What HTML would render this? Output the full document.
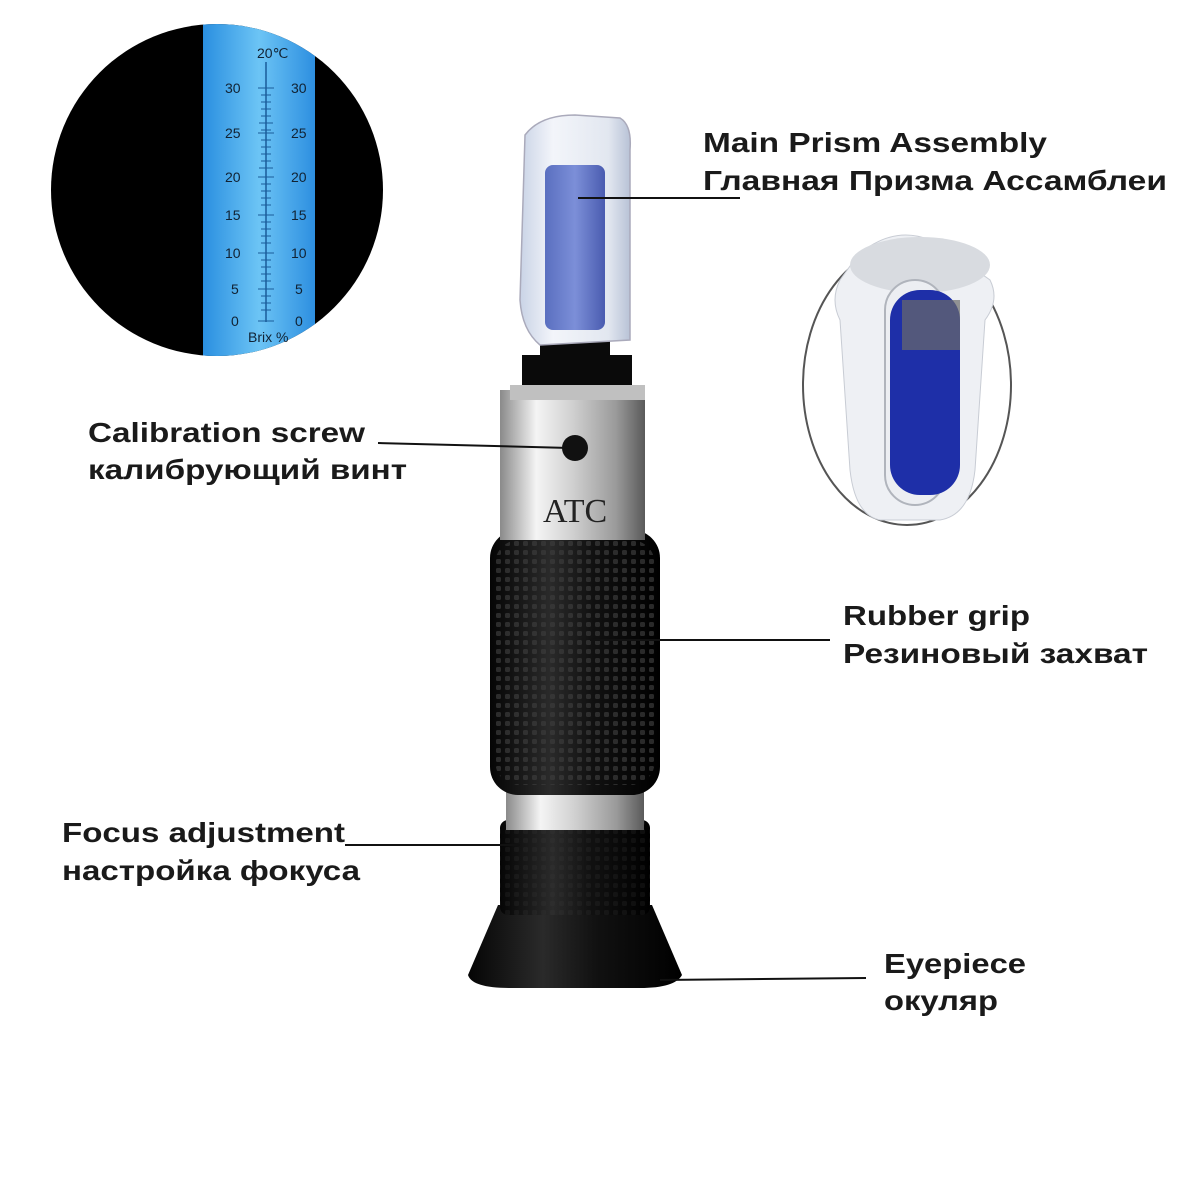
<!DOCTYPE html>
<html><head><meta charset="utf-8"><style>
html,body{margin:0;padding:0;background:#fff;}
svg{display:block}
.t{font-family:"Liberation Sans",sans-serif;font-weight:bold;font-size:28px;fill:#1a1a1a}
.n{font-family:"Liberation Sans",sans-serif;font-size:14px;fill:#123}
</style></head><body>
<svg width="1200" height="1200" viewBox="0 0 1200 1200" xmlns="http://www.w3.org/2000/svg">
<defs>
<clipPath id="c1"><circle cx="217" cy="190" r="166"/></clipPath>
<linearGradient id="blue" x1="0" x2="1"><stop offset="0" stop-color="#2a8fe0"/><stop offset="0.5" stop-color="#6cc4f5"/><stop offset="1" stop-color="#2d8fe0"/></linearGradient>
<linearGradient id="silver" x1="0" x2="1"><stop offset="0" stop-color="#8a8a8a"/><stop offset="0.25" stop-color="#f4f4f4"/><stop offset="0.5" stop-color="#d0d0d0"/><stop offset="0.8" stop-color="#9a9a9a"/><stop offset="1" stop-color="#5a5a5a"/></linearGradient>
<linearGradient id="blk" x1="0" x2="1"><stop offset="0" stop-color="#050505"/><stop offset="0.35" stop-color="#2a2a2a"/><stop offset="0.6" stop-color="#111"/><stop offset="1" stop-color="#000"/></linearGradient>
<linearGradient id="plate" x1="0" x2="1"><stop offset="0" stop-color="#5a6fc0"/><stop offset="0.5" stop-color="#7c8fd8"/><stop offset="1" stop-color="#4a5cb0"/></linearGradient>
<linearGradient id="cover" x1="0" x2="1"><stop offset="0" stop-color="#c9d3e6"/><stop offset="0.3" stop-color="#f3f5fa"/><stop offset="0.8" stop-color="#e2e7f0"/><stop offset="1" stop-color="#b8c2d6"/></linearGradient>
<pattern id="knurl" width="9" height="9" patternUnits="userSpaceOnUse"><rect x="1" y="1" width="5" height="5" rx="1.5" fill="#3a3a3a" opacity="0.7"/></pattern>
</defs>

<circle cx="217" cy="190" r="166" fill="#000"/>
<g clip-path="url(#c1)">
<rect x="203" y="20" width="112" height="340" fill="url(#blue)"/>
<line x1="266" y1="62" x2="266" y2="322" stroke="#1a5c9a" stroke-width="1.5"/>
</g>
<text class="n" x="257" y="58" font-size="10">20℃</text>
<g class="n">
<text x="225" y="93">30</text><text x="291" y="93">30</text>
<text x="225" y="138">25</text><text x="291" y="138">25</text>
<text x="225" y="182">20</text><text x="291" y="182">20</text>
<text x="225" y="220">15</text><text x="291" y="220">15</text>
<text x="225" y="258">10</text><text x="291" y="258">10</text>
<text x="231" y="294">5</text><text x="295" y="294">5</text>
<text x="231" y="326">0</text><text x="295" y="326">0</text>
</g>
<text class="n" x="248" y="342" font-size="11">Brix  %</text>
<g stroke="#1a5c9a" stroke-width="1">
<path d="M258 88h16M261 95h10M261 102h10M261 109h10M261 116h10M259 123h14M261 130h10M258 133h16M261 140h10M261 147h10M261 154h10M261 161h10M259 168h14M258 177h16M261 184h10M261 191h10M261 198h10M261 205h10M258 215h16M261 222h10M261 229h10M261 236h10M261 243h10M258 253h16M261 260h10M261 267h10M261 274h10M261 281h10M258 289h16M261 296h10M261 303h10M261 310h10M258 321h16"/>
</g>

<ellipse cx="907" cy="385" rx="104" ry="140" fill="#fff" stroke="#555" stroke-width="2"/>
<path d="M858 255 Q905 215 955 255 L990 280 Q1000 300 985 320 L975 470 Q970 515 940 520 L880 520 Q855 515 850 470 L840 320 Q830 300 840 280 Z" fill="#eef0f4" stroke="#c8ccd4"/>
<ellipse cx="920" cy="265" rx="70" ry="28" fill="#d8dbe0"/>
<rect x="885" y="280" width="60" height="225" rx="30" fill="#eceef2" stroke="#b0b4bc" stroke-width="2"/>
<rect x="890" y="290" width="70" height="205" rx="30" fill="#1e2fa8"/>
<rect x="902" y="300" width="58" height="50" fill="#6a6a6a" opacity="0.7"/>

<path d="M498 905 L652 905 L682 975 Q675 988 640 988 L510 988 Q472 988 468 975 Z" fill="url(#blk)"/>
<rect x="500" y="820" width="150" height="95" rx="8" fill="url(#blk)"/>
<rect x="500" y="820" width="150" height="95" rx="8" fill="url(#knurl)" opacity="0.3"/>
<rect x="506" y="785" width="138" height="45" fill="url(#silver)"/>
<rect x="490" y="530" width="170" height="265" rx="28" fill="url(#blk)"/>
<rect x="495" y="540" width="160" height="245" rx="24" fill="url(#knurl)"/>
<rect x="500" y="390" width="145" height="150" fill="url(#silver)"/>
<circle cx="575" cy="448" r="13" fill="#111"/>
<text x="543" y="522" font-family="Liberation Serif,serif" font-size="34" fill="#222">ATC</text>
<rect x="522" y="355" width="110" height="40" fill="#0a0a0a"/>
<rect x="510" y="385" width="135" height="15" fill="#c0c0c0"/>
<rect x="540" y="340" width="70" height="25" fill="#0a0a0a"/>
<path d="M525 135 Q540 115 575 115 L620 118 Q632 125 630 150 L630 340 L540 345 Q522 330 520 300 Z" fill="url(#cover)" stroke="#aab" stroke-width="1.5"/>
<rect x="545" y="165" width="60" height="165" rx="8" fill="url(#plate)"/>

<g stroke="#111" stroke-width="2">
<line x1="578" y1="198" x2="740" y2="198"/>
<line x1="378" y1="443" x2="570" y2="448"/>
<line x1="590" y1="640" x2="830" y2="640"/>
<line x1="345" y1="845" x2="520" y2="845"/>
<line x1="660" y1="980" x2="866" y2="978"/>
</g>

<text class="t" x="703" y="152" textLength="344" lengthAdjust="spacingAndGlyphs">Main Prism Assembly</text>
<text class="t" x="703" y="190" textLength="464" lengthAdjust="spacingAndGlyphs">Главная Призма Ассамблеи</text>
<text class="t" x="88" y="442" textLength="277" lengthAdjust="spacingAndGlyphs">Calibration screw</text>
<text class="t" x="88" y="479" textLength="319" lengthAdjust="spacingAndGlyphs">калибрующий винт</text>
<text class="t" x="843" y="625" textLength="187" lengthAdjust="spacingAndGlyphs">Rubber grip</text>
<text class="t" x="843" y="663" textLength="305" lengthAdjust="spacingAndGlyphs">Резиновый захват</text>
<text class="t" x="62" y="842" textLength="283" lengthAdjust="spacingAndGlyphs">Focus adjustment</text>
<text class="t" x="62" y="880" textLength="298" lengthAdjust="spacingAndGlyphs">настройка фокуса</text>
<text class="t" x="884" y="973" textLength="142" lengthAdjust="spacingAndGlyphs">Eyepiece</text>
<text class="t" x="884" y="1010" textLength="114" lengthAdjust="spacingAndGlyphs">окуляр</text>
</svg>
</body></html>
